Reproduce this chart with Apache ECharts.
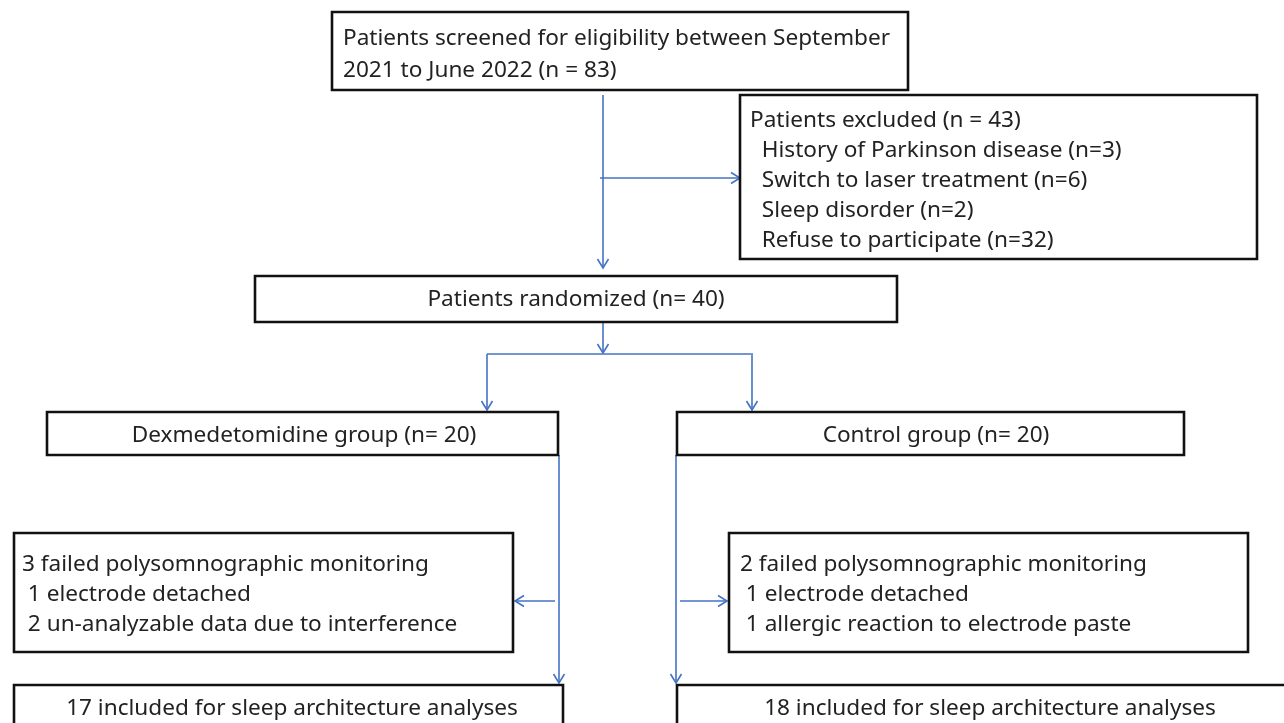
<!DOCTYPE html>
<html>
<head>
<meta charset="utf-8">
<script src="https://cdn.jsdelivr.net/npm/echarts@6/dist/echarts.min.js"></script>
<style>
html, body { margin: 0; padding: 0; background: #fff; }
#main { width: 1284px; height: 723px; }
</style>
</head>
<body>
<div id="main"></div>
<script>
// box contents
var boxTexts = [
    ['Patients screened for eligibility between September', '2021 to June 2022 (n = 83)'],
    ['Patients excluded (n = 43)', '  History of Parkinson disease (n=3)', '  Switch to laser treatment (n=6)', '  Sleep disorder (n=2)', '  Refuse to participate (n=32)'],
    ['Patients randomized (n= 40)'],
    ['Dexmedetomidine group (n= 20)'],
    ['Control group (n= 20)'],
    ['3 failed polysomnographic monitoring', ' 1 electrode detached', ' 2 un-analyzable data due to interference'],
    ['2 failed polysomnographic monitoring', ' 1 electrode detached', ' 1 allergic reaction to electrode paste'],
    ['17 included for sleep architecture analyses'],
    ['18 included for sleep architecture analyses']
];

// box corners [x0, y0, x1, y1] in page units
var boxRects = [
    [332, 12, 908, 90],
    [740, 95, 1257, 259],
    [255, 276, 897, 322],
    [47, 412, 558, 455],
    [677, 412, 1184, 455],
    [14, 533, 513, 652],
    [729, 533, 1248, 652],
    [14, 685, 563, 760],
    [677, 685, 1300, 760]
];

// first line anchor [x, y of first line centre, align, line height]
var textAnchors = [
    [343, 39, 'left', 32],
    [750, 121, 'left', 29.8],
    [576, 300, 'center', 30],
    [304, 436, 'center', 30],
    [936, 436, 'center', 30],
    [22, 565, 'left', 30],
    [740, 565, 'left', 30],
    [292, 709, 'center', 30],
    [990, 709, 'center', 30]
];

// connectors [x0, y0, x1, y1, arrowhead]
var connectors = [
    [603, 95, 603, 268, 1],
    [600, 178, 740, 178, 1],
    [603, 322, 603, 353, 1],
    [487, 354, 753, 354, 0],
    [487, 354, 487, 410, 1],
    [752, 355, 752, 410, 1],
    [559, 455, 559, 683, 1],
    [676, 455, 676, 683, 1],
    [555, 601, 515, 601, 1],
    [680, 601, 727, 601, 1]
];

var FONT = '22.6px "Noto Sans", sans-serif';
var BLUE = '#4472c4';

function renderBox(params, api) {
    var p0 = api.coord([api.value(0), api.value(1)]);
    var p1 = api.coord([api.value(2), api.value(3)]);
    var a = textAnchors[params.dataIndex];
    var t = api.coord([a[0], a[1]]);
    return {
        type: 'group',
        children: [{
            type: 'rect',
            shape: { x: p0[0], y: p0[1], width: p1[0] - p0[0], height: p1[1] - p0[1] },
            style: { fill: '#fff', stroke: '#111', lineWidth: 2.6 }
        }, {
            type: 'text',
            style: {
                x: t[0],
                y: t[1] - a[3] / 2,
                text: boxTexts[params.dataIndex].join('\n'),
                font: FONT,
                fill: '#222',
                align: a[2],
                verticalAlign: 'top',
                lineHeight: a[3]
            }
        }]
    };
}

function renderArrow(params, api) {
    var p0 = api.coord([api.value(0), api.value(1)]);
    var p1 = api.coord([api.value(2), api.value(3)]);
    var children = [{
        type: 'line',
        shape: { x1: p0[0], y1: p0[1], x2: p1[0], y2: p1[1] },
        style: { stroke: BLUE, lineWidth: 1.6 }
    }];
    if (api.value(4)) {
        var dx = p1[0] - p0[0], dy = p1[1] - p0[1];
        var len = Math.sqrt(dx * dx + dy * dy);
        var ux = dx / len, uy = dy / len;
        var L = 9, W = 5.5;
        children.push({
            type: 'polyline',
            shape: { points: [
                [p1[0] - ux * L - uy * W, p1[1] - uy * L + ux * W],
                [p1[0], p1[1]],
                [p1[0] - ux * L + uy * W, p1[1] - uy * L - ux * W]
            ] },
            style: { stroke: BLUE, lineWidth: 1.6, fill: null }
        });
    }
    return { type: 'group', children: children };
}

var option = {
    backgroundColor: '#fff',
    animation: false,
    grid: { left: 0, right: 0, top: 0, bottom: 0 },
    xAxis: { type: 'value', min: 0, max: 1284, show: false },
    yAxis: { type: 'value', min: 0, max: 723, inverse: true, show: false },
    series: [{
        type: 'custom',
        name: 'connectors',
        clip: false,
        silent: true,
        renderItem: renderArrow,
        data: connectors
    }, {
        type: 'custom',
        name: 'boxes',
        clip: false,
        silent: true,
        renderItem: renderBox,
        data: boxRects
    }]
};

var myChart = echarts.init(document.getElementById('main'));
myChart.setOption(option);
</script>
</body>
</html>
